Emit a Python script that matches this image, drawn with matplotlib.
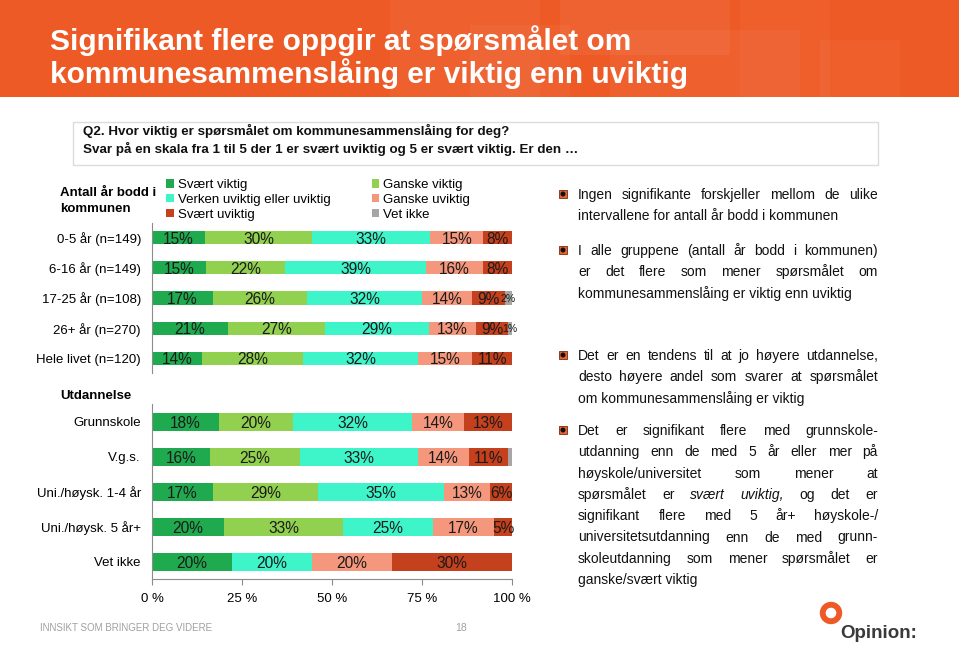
import matplotlib
matplotlib.use("Agg")
import matplotlib.pyplot as plt
from matplotlib.patches import Rectangle, Circle, Wedge
import numpy as np

W, H = 959, 647

categories = ["Svært viktig", "Verken uviktig eller uviktig", "Svært uviktig",
              "Ganske viktig", "Ganske uviktig", "Vet ikke"]
# stacking order left -> right
stack_order = ["Svært viktig", "Ganske viktig", "Verken uviktig eller uviktig",
               "Ganske uviktig", "Svært uviktig", "Vet ikke"]
colors = {"Svært viktig": "#1faa4f", "Ganske viktig": "#92d050",
          "Verken uviktig eller uviktig": "#3df5c9", "Ganske uviktig": "#f4977c",
          "Svært uviktig": "#c5401c", "Vet ikke": "#a6a6a6"}

bodd_groups = ["0-5 år (n=149)", "6-16 år (n=149)", "17-25 år (n=108)",
               "26+ år (n=270)", "Hele livet (n=120)"]
bodd_values = [[15, 30, 33, 15, 8, 0],
               [15, 22, 39, 16, 8, 0],
               [17, 26, 32, 14, 9, 2],
               [21, 27, 29, 13, 9, 1],
               [14, 28, 32, 15, 11, 0]]

edu_groups = ["Grunnskole", "V.g.s.", "Uni./høysk. 1-4 år", "Uni./høysk. 5 år+", "Vet ikke"]
edu_values = [[18, 20, 32, 14, 13, 0],
              [16, 25, 33, 14, 11, 1],
              [17, 29, 35, 13, 6, 0],
              [20, 33, 25, 17, 5, 0],
              [20, 0, 20, 20, 30, 0]]

xticks = [0, 25, 50, 75, 100]
xtick_labels = ["0 %", "25 %", "50 %", "75 %", "100 %"]

title_lines = ["Signifikant flere oppgir at spørsmålet om",
               "kommunesammenslåing er viktig enn uviktig"]
question_lines = ["Q2. Hvor viktig er spørsmålet om kommunesammenslåing for deg?",
                  "Svar på en skala fra 1 til 5 der 1 er svært uviktig og 5 er svært viktig. Er den …"]

paragraphs = [
    ["Ingen signifikante forskjeller mellom de ulike",
     "intervallene for antall år bodd i kommunen"],
    ["I alle gruppene (antall år bodd i kommunen)",
     "er det flere som mener spørsmålet om",
     "kommunesammenslåing er viktig enn uviktig"],
    ["Det er en tendens til at jo høyere utdannelse,",
     "desto høyere andel som svarer at spørsmålet",
     "om kommunesammenslåing er viktig"],
    ["Det er signifikant flere med grunnskole-",
     "utdanning enn de med 5 år eller mer på",
     "høyskole/universitet som mener at",
     "spørsmålet er *svært *uviktig, og det er",
     "signifikant flere med 5 år+ høyskole-/",
     "universitetsutdanning enn de med grunn-",
     "skoleutdanning som mener spørsmålet er",
     "ganske/svært viktig"],
]
para_y = [194, 250, 355, 430]

plt.rcParams['font.family'] = ['Liberation Sans', 'DejaVu Sans']

fig = plt.figure(figsize=(W / 100, H / 100), dpi=100)
deco = fig.add_axes([0, 0, 1, 1], zorder=0)
deco.set_xlim(0, W)
deco.set_ylim(H, 0)
deco.axis('off')

# header band
deco.add_patch(Rectangle((0, 0), W, 97, color="#ee5a26", lw=0))
for (x, y, w, h, a) in [(390, 0, 150, 97, 0.04), (470, 25, 100, 72, 0.04),
                        (560, 0, 170, 55, 0.05), (610, 30, 190, 67, 0.04),
                        (740, 0, 90, 97, 0.03), (820, 40, 80, 57, 0.03)]:
    deco.add_patch(Rectangle((x, y), w, h, color="white", alpha=a, lw=0))
for k, line in enumerate(title_lines):
    deco.text(50, 50 + k * 33, line, color="white", fontsize=21.5, fontweight="bold",
              va="baseline", ha="left")

# question box
deco.add_patch(Rectangle((73, 122), 805, 43, facecolor="white", edgecolor="#dcdcdc", lw=1))
for k, line in enumerate(question_lines):
    deco.text(83, 135 + k * 18, line, fontsize=9.6, fontweight="bold", va="baseline",
              color="#111111")

# group headings
deco.text(60, 193, "Antall år bodd i", fontsize=9.5, fontweight="bold", va="center")
deco.text(60, 209, "kommunen", fontsize=9.5, fontweight="bold", va="center")
deco.text(60, 396, "Utdannelse", fontsize=9.5, fontweight="bold", va="center")


def draw_stack(ax, groups, values, bar_h, small_labels):
    vals = np.array(values, float)
    shares = vals / vals.sum(axis=1, keepdims=True) * 100
    y = np.arange(len(groups))
    left = np.zeros(len(groups))
    handles = {}
    for j, cat in enumerate(stack_order):
        bars = ax.barh(y, shares[:, j], left=left, height=bar_h, color=colors[cat],
                       label=cat, linewidth=0)
        handles[cat] = bars
        for i in range(len(groups)):
            v = vals[i, j]
            if v == 0:
                continue
            cx = left[i] + shares[i, j] / 2
            if v >= 3:
                ax.text(cx, y[i], f"{v:.0f}%", ha="center", va="center_baseline",
                        fontsize=11.2, color="#1a1a1a")
            elif small_labels:
                ax.text(cx, y[i], f"{v:.0f}%", ha="center", va="center_baseline",
                        fontsize=7.5, color="#1a1a1a")
        left += shares[:, j]
    ax.set_xlim(0, 100)
    ax.set_yticks(y, groups)
    ax.tick_params(axis="y", length=0, pad=8, labelsize=9.5)
    ax.set_facecolor("none")
    for s in ["top", "right", "bottom"]:
        ax.spines[s].set_visible(False)
    ax.spines["left"].set_color("#8c8c8c")
    return handles


ax1 = fig.add_axes([152 / W, 1 - 373 / H, 360 / W, 150 / H], zorder=2)
handles = draw_stack(ax1, bodd_groups, bodd_values, 0.43, True)
ax1.set_ylim(4.48, -0.48)
ax1.set_xticks([])

ax2 = fig.add_axes([152 / W, 1 - 579 / H, 360 / W, 175 / H], zorder=2)
draw_stack(ax2, edu_groups, edu_values, 0.51, False)
ax2.set_ylim(4.49, -0.51)
ax2.spines["bottom"].set_visible(True)
ax2.spines["bottom"].set_color("#8c8c8c")
ax2.set_xticks(xticks, xtick_labels)
ax2.tick_params(axis="x", length=4, color="#8c8c8c", labelsize=9.5, pad=6)

fig.legend([handles[c] for c in categories], categories, ncol=2, loc="upper left",
           bbox_to_anchor=(166 / W, 1 - 179 / H), frameon=False, fontsize=9.5,
           handlelength=0.6, handleheight=0.6, handletextpad=0.3, columnspacing=3.1,
           labelspacing=0.22, borderpad=0, borderaxespad=0)

# right-hand justified text
renderer = fig.canvas.get_renderer()
x0, x1, lh = 578, 878, 21.3
for para, y0 in zip(paragraphs, para_y):
    deco.add_patch(Rectangle((559, y0 - 4), 8, 8, facecolor="#e8642f", edgecolor="#7a2a10", lw=0.6))
    deco.add_patch(Circle((563, y0), 1.8, color="#111111"))
    for k, line in enumerate(para):
        y = y0 + k * lh + 5
        if k == len(para) - 1:
            deco.text(x0, y, line, fontsize=10, va="baseline", color="#111111")
            continue
        words = line.split()
        items = []
        for wd in words:
            style = "normal"
            if wd.startswith("*"):
                wd = wd[1:]
                style = "italic"
            t = deco.text(x0, y, wd, fontsize=10, va="baseline", style=style, color="#111111")
            items.append((t, t.get_window_extent(renderer).width))
        total = sum(w for _, w in items)
        gap = (x1 - x0 - total) / (len(items) - 1)
        x = x0
        for t, w in items:
            t.set_x(x)
            x += w + gap

# footer
deco.text(40, 628, "INNSIKT SOM BRINGER DEG VIDERE", fontsize=7, color="#a0a0a0", va="center")
deco.text(455, 628, "18", fontsize=7.5, color="#a0a0a0", va="center")
deco.add_patch(Wedge((831, 613), 10.5, 0, 360, width=4.5, color="#ee5a26"))
deco.text(840, 634, "Opinion:", fontsize=13.5, fontweight="bold", color="#3a3a3a", va="center")

fig.savefig("out.png", dpi=100)
